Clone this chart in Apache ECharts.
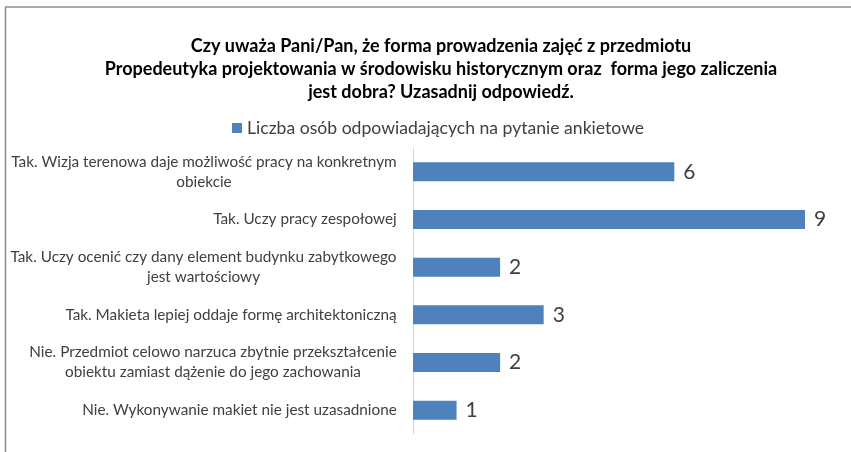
<!DOCTYPE html>
<html><head><meta charset="utf-8">
<script src="https://cdn.jsdelivr.net/npm/echarts@6/dist/echarts.min.js"></script>
<style>html,body{margin:0;padding:0;background:#fff}#c{width:851px;height:452px}</style>
</head><body><div id="c"></div>
<script>
const titleText = 'Czy uważa Pani/Pan, że forma prowadzenia zajęć z przedmiotu\nPropedeutyka projektowania w środowisku historycznym oraz  forma jego zaliczenia\njest dobra? Uzasadnij odpowiedź.';
const seriesName = 'Liczba osób odpowiadających na pytanie ankietowe';
const categories = [
  'Tak. Wizja terenowa daje możliwość pracy na konkretnym\nobiekcie',
  'Tak. Uczy pracy zespołowej',
  'Tak. Uczy ocenić czy dany element budynku zabytkowego\njest wartościowy',
  'Tak. Makieta lepiej oddaje formę architektoniczną',
  'Nie. Przedmiot celowo narzuca zbytnie przekształcenie\nobiektu zamiast dążenie do jego zachowania',
  'Nie. Wykonywanie makiet nie jest uzasadnione'
];
const values = [6, 9, 2, 3, 2, 1];

const FONT = 'Lato';
const cv = document.createElement('canvas').getContext('2d');
function fit(text, targetW, weight) {
  cv.font = (weight || 'normal') + ' 100px ' + FONT;
  return Math.round(100 * targetW / cv.measureText(text).width * 10) / 10;
}
const LABEL_SIZE = fit('Tak. Wizja terenowa daje możliwość pracy na konkretnym', 385);
const TITLE_SIZE = fit('Propedeutyka projektowania w środowisku historycznym oraz  forma jego zaliczenia', 673, 'bold');
const LEGEND_SIZE = fit(seriesName, 397);
cv.font = LABEL_SIZE + 'px ' + FONT;
const rich = {};
categories.forEach((c, i) => {
  const w = Math.max(...c.split('\n').map(s => cv.measureText(s).width));
  rich['l' + i] = {width: Math.ceil(w), align: 'center', fontSize: LABEL_SIZE, fontFamily: FONT, color: '#404040', lineHeight: 20};
});
const cats = categories.slice().reverse();
const vals = values.slice().reverse();

const chart = echarts.init(document.getElementById('c'));
chart.setOption({
  animation: false,
  backgroundColor: '#fff',
  title: {
    text: titleText, left: 436, top: 30, textAlign: 'center',
    textStyle: {fontFamily: FONT, fontWeight: 'bold', fontSize: TITLE_SIZE, color: '#000', lineHeight: 23}
  },
  legend: {
    data: [seriesName], left: 227, top: 114, itemWidth: 10, itemHeight: 10, itemGap: 6,
    icon: 'rect',
    textStyle: {fontFamily: FONT, fontSize: LEGEND_SIZE, color: '#404040'}
  },
  grid: {left: 413, top: 148, height: 286, width: 392, containLabel: false},
  xAxis: {type: 'value', min: 0, max: 9, show: false},
  yAxis: {
    type: 'category', data: cats,
    axisLine: {show: true, lineStyle: {color: '#d9d9d9', width: 1}},
    axisTick: {show: false},
    axisLabel: {
      margin: 16, align: 'right',
      formatter: function (v) {
        const i = categories.indexOf(v);
        return v.split('\n').map(s => '{l' + i + '|' + s + '}').join('\n');
      },
      rich: rich
    },
    splitLine: {show: false}
  },
  series: [{
    name: seriesName, type: 'bar', data: vals, barWidth: 19,
    itemStyle: {color: '#4F81BD'},
    label: {show: true, position: 'right', distance: 9, fontFamily: FONT, fontSize: 21, color: '#404040'}
  }],
  graphic: [
    {type: 'line', shape: {x1: 5, y1: 7, x2: 851, y2: 7}, style: {stroke: '#8c8c8c', lineWidth: 1.5}, silent: true},
    {type: 'line', shape: {x1: 5.5, y1: 7, x2: 5.5, y2: 452}, style: {stroke: '#8c8c8c', lineWidth: 1.5}, silent: true}
  ]
});
</script></body></html>
